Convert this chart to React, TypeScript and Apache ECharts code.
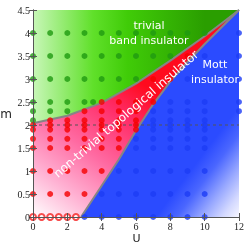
import React, { useEffect, useRef } from "react";
import * as echarts from "echarts";

const xTicks = [0, 2, 4, 6, 8, 10, 12];
const yTicks = [0, 0.5, 1, 1.5, 2, 2.5, 3, 3.5, 4, 4.5];

// phase boundary: topological / trivial band insulator
const bandBoundaryU = [0, 2, 4, 6, 8, 10, 12];
const bandBoundaryM = [2.04, 2.2, 2.48, 2.9, 3.4, 3.93, 4.5];
// phase boundary: topological / Mott insulator
const mottBoundaryU = [2.8, 4, 5, 6, 7, 8, 9, 10, 11, 12];
const mottBoundaryM = [0, 0.68, 1.25, 1.88, 2.45, 2.95, 3.37, 3.76, 4.13, 4.5];

const dashedLevel = 2;

// simulated points [U, m]
const bandPts: [number, number][] = [
  [0, 4], [1, 4], [2, 4], [3, 4], [4, 4], [5, 4], [6, 4], [7, 4], [8, 4], [9, 4], [10, 4],
  [0, 3.5], [1, 3.5], [2, 3.5], [3, 3.5], [4, 3.5], [5, 3.5], [6, 3.5], [7, 3.5], [8, 3.5],
  [0, 3], [1, 3], [2, 3], [3, 3], [4, 3], [5, 3], [6, 3],
  [0, 2.5], [1, 2.5], [2, 2.5], [3, 2.5], [3.5, 2.5],
  [0, 2.3], [1, 2.3], [2, 2.3],
  [0, 2.1],
];
const topoPts: [number, number][] = [
  [9, 3.5],
  [7, 3], [8, 3],
  [4, 2.5], [5, 2.5], [6, 2.5], [7, 2.5],
  [3, 2.3], [4, 2.3], [5, 2.3], [6, 2.3],
  [1, 2.1], [2, 2.1], [3, 2.1], [4, 2.1], [5, 2.1], [6, 2.1],
  [0, 2], [1, 2], [2, 2], [3, 2], [4, 2], [5, 2], [6, 2],
  [0, 1.9], [1, 1.9], [2, 1.9], [3, 1.9], [4, 1.9], [5, 1.9], [6, 1.9],
  [0, 1.7], [1, 1.7], [2, 1.7], [3, 1.7], [4, 1.7], [5, 1.7],
  [0, 1.5], [1, 1.5], [2, 1.5], [3, 1.5], [4, 1.5], [5, 1.5],
  [0, 1], [1, 1], [2, 1], [3, 1], [4, 1],
  [0, 0.5], [1, 0.5], [2, 0.5], [3, 0.5],
];
const topoOpenPts: [number, number][] = [
  [0, 0], [0.5, 0], [1, 0], [1.5, 0], [2, 0], [2.5, 0],
];
const mottPts: [number, number][] = [
  [3, 0], [4, 0], [5, 0], [6, 0], [7, 0], [8, 0], [9, 0], [10, 0],
  [4, 0.5], [5, 0.5], [6, 0.5], [7, 0.5], [8, 0.5], [9, 0.5], [10, 0.5],
  [5, 1], [6, 1], [7, 1], [8, 1], [9, 1], [10, 1],
  [6, 1.5], [7, 1.5], [8, 1.5], [9, 1.5], [10, 1.5],
  [6, 1.7], [7, 1.7], [8, 1.7], [9, 1.7], [10, 1.7],
  [7, 1.9], [8, 1.9], [9, 1.9], [10, 1.9],
  [7, 2], [8, 2], [9, 2], [10, 2],
  [7, 2.1], [8, 2.1], [9, 2.1], [10, 2.1],
  [7, 2.3], [8, 2.3], [9, 2.3], [10, 2.3],
  [8, 2.5], [9, 2.5], [10, 2.5],
  [9, 3], [10, 3],
  [10, 3.5],
  [12, 2.3], [12, 2.5], [12, 3], [12, 3.5], [12, 4],
];

const zip = (u: number[], m: number[]): [number, number][] => u.map((v, i) => [v, m[i]]);

export default function App() {
  const ref = useRef<HTMLDivElement>(null);
  useEffect(() => {
    if (!ref.current) return;
    const chart = echarts.init(ref.current, null, { renderer: "svg" });
    const xMin = xTicks[0], xMax = xTicks[xTicks.length - 1];
    const yMin = yTicks[0], yMax = yTicks[yTicks.length - 1];
    const bandB = zip(bandBoundaryU, bandBoundaryM);
    const mottB = zip(mottBoundaryU, mottBoundaryM);

    const greenPoly: [number, number][] = [...bandB, [xMin, yMax]];
    const redPoly: [number, number][] = [[xMin, yMin], ...mottB, ...bandB.slice().reverse()];
    const bluePoly: [number, number][] = [[xMax, yMin], [xMax, yMax], ...mottB.slice().reverse()];

    const poly = (pts: [number, number][], from: [number, number], to: [number, number], stops: any[]) => ({
      type: "custom",
      coordinateSystem: "cartesian2d",
      data: [[0, 0]],
      silent: true,
      z: 1,
      renderItem: (_p: any, api: any) => {
        const points = pts.map((p) => api.coord(p));
        const a = api.coord(from);
        const b = api.coord(to);
        return {
          type: "polygon",
          shape: { points },
          style: {
            fill: new echarts.graphic.LinearGradient(a[0], a[1], b[0], b[1], stops, true),
            stroke: "none",
          },
        };
      },
    });

    const axisCommon = {
      type: "value",
      z: 10,
      splitLine: { show: false },
      axisLine: { show: true, lineStyle: { color: "#555", width: 1 } },
      axisTick: { show: true, inside: true, length: 4, lineStyle: { color: "#555" } },
    };
    const labelStyle = { color: "#222", fontSize: 10, fontFamily: "Liberation Serif, serif" };

    const textStyle = (t: string, size = 11) => ({
      text: t,
      fill: "#fff",
      fontSize: size,
      fontFamily: "DejaVu Sans",
      align: "center",
      verticalAlign: "middle",
    });

    chart.setOption({
      animation: false,
      grid: { left: 33, right: 8, top: 10, bottom: 30 },
      xAxis: [
        { ...axisCommon, min: xMin, max: xMax, interval: 2, position: "bottom",
          axisLabel: { ...labelStyle, margin: 4 } },
        { ...axisCommon, min: xMin, max: xMax, interval: 2, position: "top", axisLabel: { show: false } },
      ],
      yAxis: [
        { ...axisCommon, min: yMin, max: yMax, interval: 0.5, position: "left",
          axisLabel: { ...labelStyle, margin: 3 } },
        { ...axisCommon, min: yMin, max: yMax, interval: 0.5, position: "right", axisLabel: { show: false } },
      ],
      graphic: [
        { type: "text", x: 149, y: 25, z: 100, style: textStyle("trivial") },
        { type: "text", x: 149, y: 40, z: 100, style: textStyle("band insulator") },
        { type: "text", x: 215, y: 64, z: 100, style: textStyle("Mott") },
        { type: "text", x: 215, y: 79, z: 100, style: textStyle("insulator") },
        { type: "text", x: 126, y: 114, z: 100, rotation: (41 * Math.PI) / 180,
          style: textStyle("non-trivial topological insulator", 12) },
        { type: "text", x: 136.5, y: 238, z: 100,
          style: { ...textStyle("U", 11), fill: "#222" } },
        { type: "text", x: 6, y: 113.5, z: 100,
          style: { ...textStyle("m", 12), fill: "#222" } },
      ],
      series: [
        poly(greenPoly, [0, 3.5], [10, 3.5], [
          { offset: 0, color: "#c8f7b8" },
          { offset: 0.35, color: "#60e02a" },
          { offset: 0.55, color: "#40cc08" },
          { offset: 1, color: "#2a9e00" },
        ]),
        poly(redPoly, [0, 0], [6, 3], [
          { offset: 0, color: "#ffffff" },
          { offset: 0.25, color: "#ffb0d2" },
          { offset: 0.5, color: "#ff6aa2" },
          { offset: 0.78, color: "#ff2d68" },
          { offset: 1, color: "#ff0a1e" },
        ]),
        poly(bluePoly, [8.9, 0.87], [12, 0], [
          { offset: 0, color: "#2b4bff" },
          { offset: 0.25, color: "#4a66ff" },
          { offset: 0.55, color: "#98a8ff" },
          { offset: 0.8, color: "#d4d9ff" },
          { offset: 1, color: "#f6f6ff" },
        ]),
        {
          type: "line", data: bandB, showSymbol: false, symbol: "none", silent: true, z: 3,
          lineStyle: { color: "#858585", width: 2 },
        },
        {
          type: "line", data: mottB, showSymbol: false, symbol: "none", silent: true, z: 3,
          lineStyle: { color: "#858585", width: 2 },
        },
        {
          type: "line", data: [[xMin, dashedLevel], [xMax, dashedLevel]], showSymbol: false, symbol: "none",
          silent: true, z: 4, lineStyle: { color: "#555", width: 1, type: [3, 3] },
        },
        {
          type: "scatter", data: bandPts, symbolSize: 6, z: 5, silent: true,
          itemStyle: { color: "#1f9a12" },
        },
        {
          type: "scatter", data: topoPts, symbolSize: 6, z: 5, silent: true,
          itemStyle: { color: "#f50000" },
        },
        {
          type: "scatter", data: topoOpenPts, symbol: "emptyCircle", symbolSize: 6, z: 5, silent: true,
          itemStyle: { color: "#f52020", borderWidth: 1 },
        },
        {
          type: "scatter", data: mottPts, symbolSize: 6, z: 5, silent: true,
          itemStyle: { color: "#1d3cf5" },
        },
      ],
    });
    return () => chart.dispose();
  }, []);
  return <div ref={ref} style={{ position: "fixed", left: 0, top: 0, width: 247, height: 247 }} />;
}
